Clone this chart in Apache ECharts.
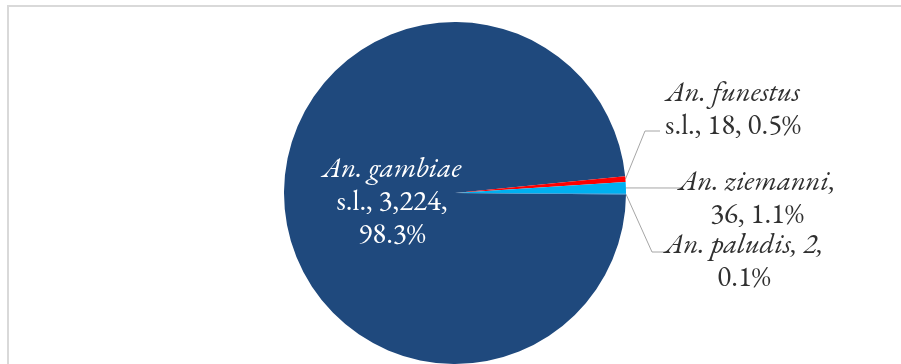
<!DOCTYPE html>
<html>
<head>
<meta charset="utf-8">
<script src="https://cdn.jsdelivr.net/npm/echarts@6/dist/echarts.min.js"></script>
<style>
  html, body { margin: 0; padding: 0; background: #fff; }
  #chart { width: 901px; height: 364px; }
</style>
</head>
<body>
<div id="chart"></div>
<script>
// Anopheles species composition
const species = ['An. gambiae', 'An. funestus', 'An. ziemanni', 'An. paludis'];
const counts = [3224, 18, 36, 2];
const qualifiers = ['s.l.', 's.l.', '', ''];
const sliceColors = ['#1F497D', '#FF0000', '#00B0F0', '#0070C0'];

const total = counts.reduce((a, b) => a + b, 0);
const fmtCount = v => v.toLocaleString('en-US');
const fmtPct = v => (v / total * 100).toFixed(1) + '%';

// Label text, split over lines the way each callout is set
function labelText(i) {
  const n = species[i], c = fmtCount(counts[i]), p = fmtPct(counts[i]);
  switch (i) {
    case 0: return `{it|${n}}\n{rm|${qualifiers[i]}, ${c},}\n{rm|${p}}`;
    case 1: return `{it|${n}}\n{rm|${qualifiers[i]}, ${c}, ${p}}`;
    case 2: return `{it|${n},}\n{rm|${c}, ${p}}`;
    default: return `{it|${n}, ${c},}\n{rm|${p}}`;
  }
}

// Callout placement (label centre) and leader-line bends
const labelPos = [[392, 202], [733, 110], [757, 199], [744, 262]];
const leaderBends = [null, [[645, 131], [660, 131]], [[683, 188]], [[652, 252], [668, 252]]];

const serif = 'Garamond, "EB Garamond", "Liberation Serif", "DejaVu Serif", serif';
const FS = 29, LH = 33;

const chart = echarts.init(document.getElementById('chart'), null, { renderer: 'canvas' });
chart.setOption({
  animation: false,
  backgroundColor: '#ffffff',
  graphic: [{
    type: 'rect',
    shape: { x: 8, y: 6, width: 1000, height: 600 },
    style: { fill: 'none', stroke: '#D9D9D9', lineWidth: 2 },
    silent: true
  }],
  series: [{
    type: 'pie',
    center: [455, 193],
    radius: [0, 171],
    startAngle: 359.5,
    clockwise: true,
    avoidLabelOverlap: false,
    itemStyle: { borderWidth: 0 },
    label: {
      show: true,
      position: 'outside',
      formatter: p => labelText(p.dataIndex),
      color: '#303030',
      fontFamily: serif,
      fontSize: FS,
      lineHeight: LH,
      align: 'center',
      rich: {
        it: { fontStyle: 'italic', fontFamily: serif, fontSize: FS, lineHeight: LH },
        rm: { fontFamily: serif, fontSize: FS, lineHeight: LH }
      }
    },
    labelLine: {
      show: true,
      length: 10,
      length2: 10,
      lineStyle: { color: '#A6A6A6', width: 1 }
    },
    labelLayout: function (params) {
      const i = params.dataIndex;
      const out = {
        x: labelPos[i][0],
        y: labelPos[i][1],
        align: 'center',
        verticalAlign: 'middle'
      };
      if (leaderBends[i] && params.labelLinePoints) {
        out.labelLinePoints = [params.labelLinePoints[0]].concat(leaderBends[i]);
      }
      return out;
    },
    data: species.map((name, i) => {
      const d = {
        name: name,
        value: counts[i],
        itemStyle: { color: sliceColors[i] }
      };
      if (i === 0) {
        d.label = { position: 'inside', color: '#ffffff' };
        d.labelLine = { show: false };
      }
      return d;
    })
  }]
});
</script>
</body>
</html>
